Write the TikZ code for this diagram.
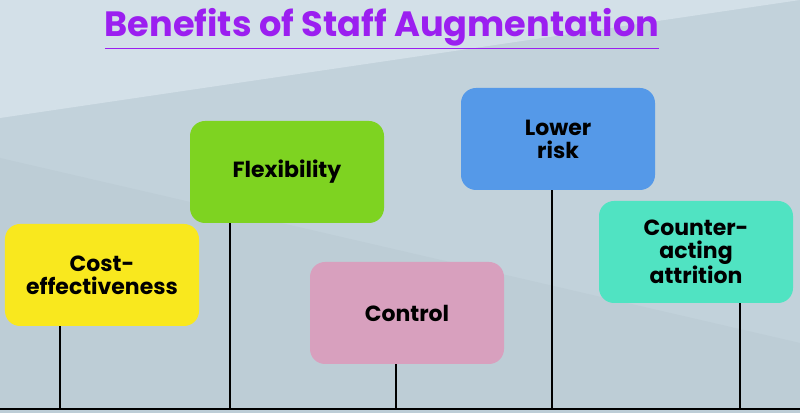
\documentclass[tikz,border=0pt]{standalone}
\usepackage{fontspec}
\setmainfont{Poppins}
\usetikzlibrary{positioning}
\definecolor{bgbase}{HTML}{C2D2DB}
\definecolor{bglight}{HTML}{D3E0E8}
\definecolor{bgdark}{HTML}{BDCDD6}
\definecolor{titlepurple}{HTML}{9B1FF0}
\definecolor{costyellow}{HTML}{F9E81E}
\definecolor{flexgreen}{HTML}{7ED321}
\definecolor{ctrlpink}{HTML}{D8A0BE}
\definecolor{riskblue}{HTML}{5599E8}
\definecolor{attrteal}{HTML}{50E3C2}
\begin{document}
\begin{tikzpicture}[
        every node/.style={font=\bfseries\fontsize{12.5}{13}\selectfont},
        card/.style={rectangle, rounded corners=3mm, minimum width=3.88cm, minimum height=2.04cm, align=center},
        stem/.style={line width=1.2pt, black}
    ]
        % background
        \fill[bgbase] (0,0) rectangle (16,8.26);
        \fill[bglight] (0,8.26) -- (0,5.9) -- (16,8.26) -- cycle;
        \fill[bgdark] (0,5.1) -- (16,1.4) -- (16,0) -- (0,0) -- cycle;
        \useasboundingbox (0,0) rectangle (16,8.26);
        % title
        \node[font=\bfseries\fontsize{20}{24}\selectfont, text=titlepurple] (title) at (7.64,7.68)
            {\underline{Benefits of Staff Augmentation}};
        % cards
        \node[card, fill=costyellow] (cost) at (2.04,2.76) {Cost-\\effectiveness};
        \node[card, fill=flexgreen] (flex) at (5.74,4.82) {Flexibility};
        \node[card, fill=ctrlpink] (ctrl) at (8.14,2.0) {Control};
        \node[card, fill=riskblue] (risk) at (11.16,5.48) {Lower\\risk};
        \node[card, fill=attrteal] (attr) at (13.92,3.22) {Counter-\\acting\\attrition};
        % baseline and stems
        \coordinate (base west) at (0,0.08);
        \coordinate (base east) at (16,0.08);
        \draw[line width=1.5pt] (base west) -- (base east);
        \draw[stem] (cost.south -| 1.2,0) -- (1.2,0.08);
        \draw[stem] (flex.south -| 4.6,0) -- (4.6,0.08);
        \draw[stem] (ctrl.south -| 7.92,0) -- (7.92,0.08);
        \draw[stem] (risk.south -| 11.04,0) -- (11.04,0.08);
        \draw[stem] (attr.south -| 14.8,0) -- (14.8,0.08);
    \end{tikzpicture}
\end{document}
